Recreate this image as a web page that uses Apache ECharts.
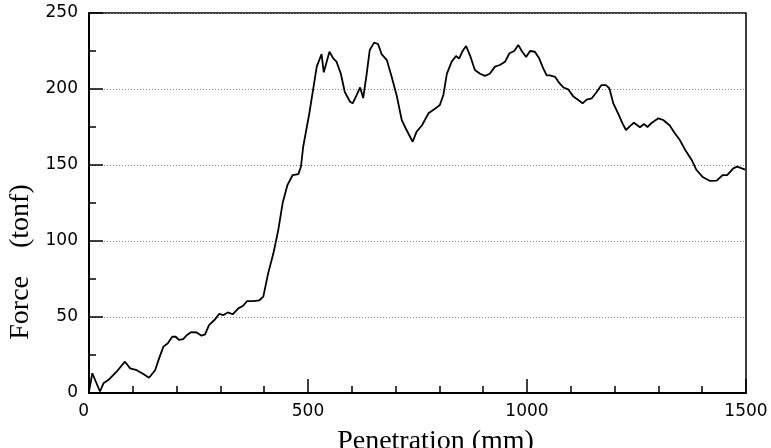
<!DOCTYPE html>
<html>
<head>
<meta charset="utf-8">
<script src="https://cdn.jsdelivr.net/npm/echarts@6/dist/echarts.min.js"></script>
<style>
html,body{margin:0;padding:0;background:#fff;}
#chart{width:771px;height:448px;}
</style>
</head>
<body>
<div id="chart"></div>
<script>
const penetration = [0,7.6,25,33,44,63,82,94,109,124,137,151,160,170,180,190,198,205,215,223,233,246,257,265,274,288,297,307,317,328,341,352,361,375,389,398,409,421,432,442,453,465,478,484,489,503,520,531,536,549,558,565,575,584,596,602,611,619,623,626,634,641,651,660,668,680,691,703,714,725,739,748,760,775,790,801,809,817,828,838,845,853,861,870,881,893,904,915,927,938,950,960,971,980,988,998,1007,1018,1028,1037,1045,1052,1064,1074,1083,1094,1106,1117,1127,1136,1148,1159,1170,1180,1188,1197,1208,1218,1226,1235,1244,1258,1267,1275,1285,1300,1311,1326,1337,1349,1361,1376,1387,1402,1418,1433,1447,1457,1471,1480,1498];
const force = [1,13,1,6.4,8.5,14,20.6,16.2,15,12.5,10,15,22.8,30.5,32.7,37,37,35,35.5,38,40,39.8,37.7,38.6,44.7,48.5,52,51.3,53,51.8,55.7,57.4,60.5,60.5,61,63.4,78.7,91.9,107,124.8,136.8,143.4,144,149,162,184,214.7,223,211,224.5,220,218,210,198,191.6,190.6,196,201,201,194,210,225.7,230.5,229.6,223,219,208,195,179.6,173,165.3,172,176,184,187,189.5,196,210,218,221.7,220,225,228.3,222,212.5,210,208.6,210,214.7,215.8,218,223.5,225,229,225,221,225,224.5,220,213.6,209,209,208,203.8,201,199.8,195,192.8,190.6,193,193.9,198,202.6,202.6,200.5,190.6,184,177.4,173,175.6,177.8,174.8,177,175,177.8,180.7,179.6,176,171,166.4,160,153.3,146.7,141.9,139.5,139.7,143.4,143.4,147.8,148.9,147];
const xTicks = [0,500,1000,1500];
const yTicks = [0,50,100,150,200,250];
const xName = 'Penetration (mm)';
const yName = 'Force    (tonf)';

const chart = echarts.init(document.getElementById('chart'), null, {renderer:'canvas'});
const pts = penetration.map((x,i)=>[x, force[i]]);
chart.setOption({
  animation:false,
  backgroundColor:'#fff',
  grid:{left:89, right:25, top:13, bottom:55, containLabel:false, outerBoundsMode:'none',
        show:true, borderColor:'#000', borderWidth:1.5, backgroundColor:'transparent'},
  xAxis:{
    type:'value', min:xTicks[0], max:xTicks[xTicks.length-1], interval:500,
    name:xName, nameLocation:'middle', nameGap:35,
    nameTextStyle:{fontFamily:'Liberation Serif', fontSize:28, color:'#000', padding:[0,0,0,36]},
    axisLine:{show:true, onZero:false, lineStyle:{color:'#000', width:2}},
    axisTick:{show:true, inside:true, length:14, lineStyle:{color:'#000', width:1.5}},
    minorTick:{show:true, splitNumber:5, length:7, lineStyle:{color:'#000', width:1.5}},
    axisLabel:{fontFamily:'DejaVu Sans', fontSize:17, color:'#000', margin:10, alignMinLabel:'right', formatter:(v)=>String(v)},
    splitLine:{show:false}
  },
  yAxis:{
    type:'value', min:yTicks[0], max:yTicks[yTicks.length-1], interval:50,
    name:yName, nameLocation:'middle', nameGap:52, nameRotate:90,
    nameTextStyle:{fontFamily:'Liberation Serif', fontSize:28, color:'#000', padding:[0,118,0,0]},
    axisLine:{show:true, lineStyle:{color:'#000', width:2}},
    axisTick:{show:true, inside:true, length:14, lineStyle:{color:'#000', width:1.5}},
    minorTick:{show:true, splitNumber:2, length:7, lineStyle:{color:'#000', width:1.5}},
    axisLabel:{fontFamily:'DejaVu Sans', fontSize:17, color:'#000', margin:11, padding:[6,0,0,0], formatter:(v)=>String(v)},
    splitLine:{show:true, lineStyle:{color:'#888', type:[1,2], width:1}}
  },
  series:[{
    type:'line', data:pts, showSymbol:false, smooth:false,
    lineStyle:{color:'#000', width:1.8}
  }]
});
</script>
</body>
</html>
